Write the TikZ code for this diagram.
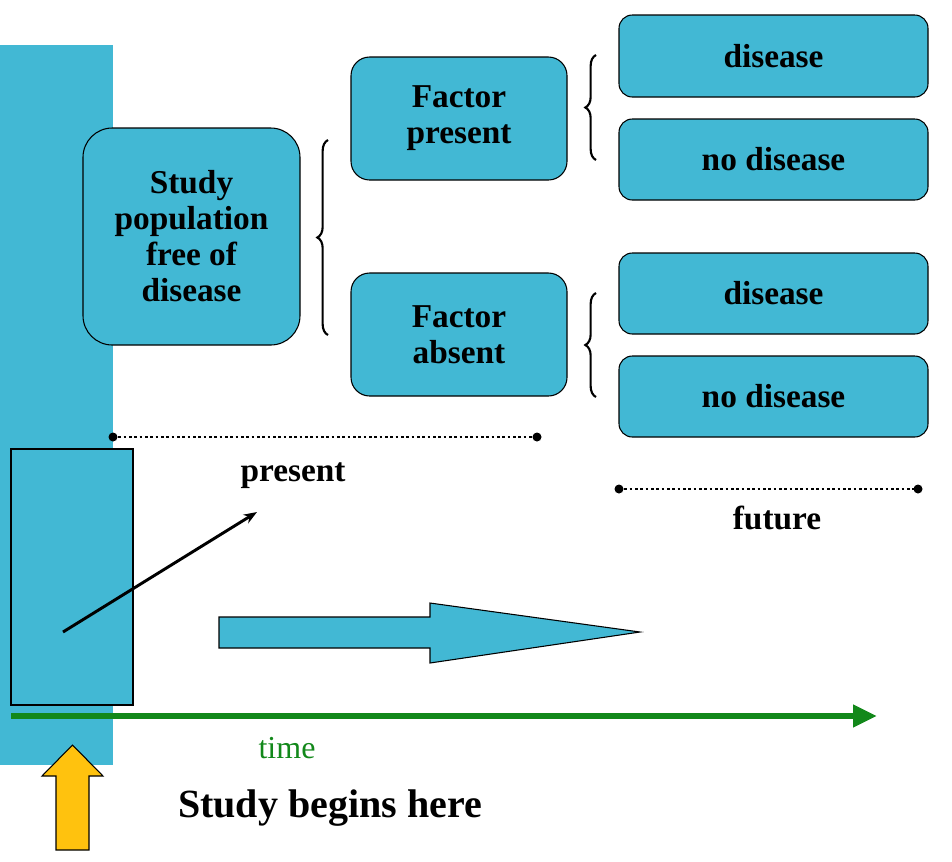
\documentclass[tikz,border=0pt]{standalone}
\usepackage{fontspec}
\setmainfont{Liberation Serif}
\usetikzlibrary{arrows.meta,decorations.pathreplacing}
\definecolor{cy}{HTML}{42B8D4}
\definecolor{gr}{HTML}{12881A}
\definecolor{yl}{HTML}{FFC20E}
\begin{document}
\begin{tikzpicture}[x=0.75pt,y=-0.75pt,
 box/.style={draw=black,line width=0.8pt,fill=cy,rounded corners=10pt,font=\bfseries\fontsize{25}{27}\selectfont,align=center,inner sep=0pt},
 br/.style={decorate,decoration={brace,amplitude=8pt},line width=1.6pt},
 dl/.style={line width=2pt,dotted},
 lab/.style={font=\bfseries\fontsize{25}{27}\selectfont}]
\useasboundingbox (0,0) rectangle (952,861);
\fill[cy] (0,45) rectangle (113,765);
\node[box,rounded corners=22pt,minimum width=217*0.75pt,minimum height=217*0.75pt] (sp) at (191.5,236.5) {Study\\population\\free of\\disease};
\node[box,rounded corners=14pt,minimum width=216*0.75pt,minimum height=123*0.75pt] (fp) at (459,118.5) {Factor\\present};
\node[box,rounded corners=14pt,minimum width=216*0.75pt,minimum height=123*0.75pt] (fa) at (459,334.5) {Factor\\absent};
\node[box,minimum width=309*0.75pt,minimum height=82*0.75pt] (d1) at (773.5,56) {disease};
\node[box,minimum width=309*0.75pt,minimum height=81*0.75pt] (n1) at (773.5,159.5) {no disease};
\node[box,minimum width=309*0.75pt,minimum height=81*0.75pt] (d2) at (773.5,293.5) {disease};
\node[box,minimum width=309*0.75pt,minimum height=81*0.75pt] (n2) at (773.5,396.5) {no disease};
\coordinate (b1a) at (328,335); \coordinate (b1b) at (328,140);
\draw[br] (b1a) -- (b1b);
\coordinate (b2a) at (596,160); \coordinate (b2b) at (596,55);
\draw[br] (b2a) -- (b2b);
\coordinate (b3a) at (596,397); \coordinate (b3b) at (596,293);
\draw[br] (b3a) -- (b3b);
\coordinate (p1) at (113,437); \coordinate (p2) at (537,437);
\draw[dl] (p1) -- (p2); \fill (p1) circle (4.5); \fill (p2) circle (4.5);
\coordinate (f1) at (619,489); \coordinate (f2) at (918,489);
\draw[dl] (f1) -- (f2); \fill (f1) circle (4.5); \fill (f2) circle (4.5);
\node[lab] (pr) at (293,476) {present};
\node[lab] (fu) at (777,518) {future};
\node[draw=black,line width=0.8pt,fill=cy,minimum width=122*0.75pt,minimum height=256*0.75pt,inner sep=0pt] (rc) at (72,577) {};
\coordinate (l1) at (63,632); \coordinate (l2) at (257,512);
\draw[line width=2.2pt,-{Stealth[length=10pt]}] (l1) -- (l2);
\draw[fill=cy,line width=0.8pt] (219,617) -- (430,617) -- (430,603) -- (640,632) -- (430,663) -- (430,648) -- (219,648) -- cycle;
\coordinate (t1) at (11,716); \coordinate (t2) at (877,716);
\draw[gr,line width=4.5pt,-{Triangle[length=18pt,width=16pt]}] (t1) -- (t2);
\node[gr,font=\fontsize{24}{26}\selectfont] (tm) at (287,748) {time};
\draw[fill=yl,line width=0.8pt] (56,850) -- (56,776) -- (42,776) -- (72.5,745) -- (103,776) -- (89,776) -- (89,850) -- cycle;
\node[font=\bfseries\fontsize{30}{32}\selectfont] (sb) at (330,808) {Study begins here};
\end{tikzpicture}
\end{document}
